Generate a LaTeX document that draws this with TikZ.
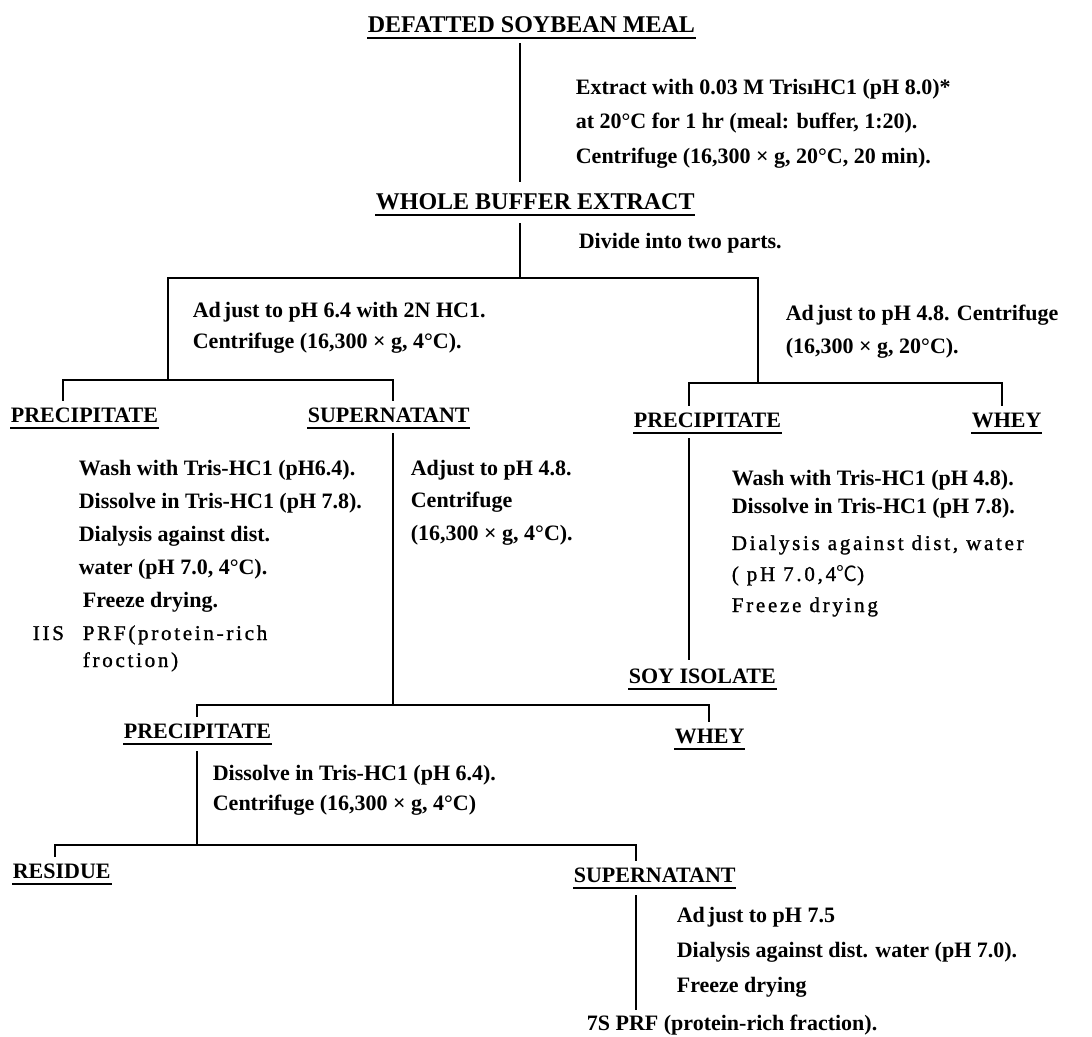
\documentclass[tikz,border=0pt]{standalone}
\usepackage{fontspec}
\setmainfont{Liberation Serif}
\newfontfamily\lightfont[LetterSpace=13,FakeBold=1.2]{Liberation Serif}
\newfontfamily\cjk{Noto Sans CJK SC}

\begin{document}
\begin{tikzpicture}[x=1pt, y=-1pt, line width=1.7pt,
    hd/.style={font=\bfseries\fontsize{22}{26}\selectfont, inner sep=0pt, anchor=base west,
      append after command={([yshift=-6pt]\tikzlastnode.base west) edge[line width=1.4pt] ([yshift=-6pt]\tikzlastnode.base east)}},
    big/.style={hd, font=\bfseries\fontsize{24}{28}\selectfont},
    proc/.style={font=\bfseries\fontsize{22}{32}\selectfont, inner sep=0pt, anchor=base west, align=left},
    faint/.style={font=\lightfont\fontsize{21}{31}\selectfont, inner sep=0pt, anchor=base west, align=left}]
    \useasboundingbox (0,0) rectangle (1092,1036);

    % headings
    \node[big] (dsm) at (367,32) {DEFATTED SOYBEAN MEAL};
    \node[big] (wbe) at (375,209) {WHOLE BUFFER EXTRACT};
    \node[hd] (ppa) at (10,422) {PRECIPITATE};
    \node[hd] (spa) at (307,422) {SUPERNATANT};
    \node[hd] (ppb) at (633,427) {PRECIPITATE};
    \node[hd] (wyb) at (971,427) {WHEY};
    \node[hd] (soy) at (628,683) {SOY ISOLATE};
    \node[hd] (ppc) at (123,738) {PRECIPITATE};
    \node[hd] (wyc) at (674,743) {WHEY};
    \node[hd] (res) at (12,878) {RESIDUE};
    \node[hd] (spc) at (573,882) {SUPERNATANT};
    \node[proc] (prf7) at (586,1030) {7S PRF (protein-rich fraction).};

    % steps (placed at the baseline of their last line)
    \node[proc, font=\bfseries\fontsize{22}{34.5}\selectfont] (ext) at (575,163) {Extract with 0.03 M TrisıHC1 (pH 8.0)*\\at 20°C for 1 hr (meal: buffer, 1:20).\\Centrifuge (16,300 × g, 20°C, 20 min).};
    \node[proc] (div) at (578,248) {Divide into two parts.};
    \node[proc, font=\bfseries\fontsize{22}{31}\selectfont] (adj64) at (192,348) {Ad\kern3pt just to pH 6.4 with 2N HC1.\\Centrifuge (16,300 × g, 4°C).};
    \node[proc, font=\bfseries\fontsize{22}{33}\selectfont] (adj48) at (785,353) {Ad\kern3pt just to pH 4.8. Centrifuge\\(16,300 × g, 20°C).};
    \node[proc, font=\bfseries\fontsize{22}{33}\selectfont] (wsha) at (78,607) {Wash with Tris-HC1 (pH6.4).\\Dissolve in Tris-HC1 (pH 7.8).\\Dialysis against dist.\\water (pH 7.0, 4°C).\\\hspace*{4pt}Freeze drying.};
    \node[faint] (iis) at (32,640) {IIS};
    \node[faint, font=\lightfont\fontsize{21}{27}\selectfont] (prf11) at (82,667) {PRF(protein-rich\\froction)};
    \node[proc, font=\bfseries\fontsize{22}{32.5}\selectfont] (adjb) at (410,540) {Adjust to pH 4.8.\\Centrifuge\\(16,300 × g, 4°C).};
    \node[proc, font=\bfseries\fontsize{22}{28}\selectfont] (wshb) at (731,513) {Wash with Tris-HC1 (pH 4.8).\\Dissolve in Tris-HC1 (pH 7.8).};
    \node[faint] (dialb) at (731,612) {Dialysis against dist, water\\( pH 7.0,4{\cjk ℃})\\Freeze drying};
    \node[proc, font=\bfseries\fontsize{22}{30}\selectfont] (dis64) at (212,810) {Dissolve in Tris-HC1 (pH 6.4).\\Centrifuge (16,300 × g, 4°C)};
    \node[proc, font=\bfseries\fontsize{22}{35}\selectfont] (adj75) at (676,992) {Ad\kern3pt just to pH 7.5\\Dialysis against dist. water (pH 7.0).\\Freeze drying};

    % branch points
    \coordinate (b1) at (520,278);
    \coordinate (l1) at (168,278);
    \coordinate (r1) at (758,278);
    \coordinate (l2) at (63,380);
    \coordinate (r2) at (393,380);
    \coordinate (l3) at (689,383);
    \coordinate (r3) at (1002,383);
    \coordinate (l4) at (197,705);
    \coordinate (r4) at (709,705);
    \coordinate (l5) at (55,845);
    \coordinate (r5) at (636,845);

    \draw ([yshift=-10pt]dsm.south -| b1) -- ([yshift=10pt]wbe.north -| b1);
    \draw ([yshift=-13pt]wbe.south -| b1) -- (b1);
    \draw (l1 |- l2) -- (l1) -- (r1) -- (r1 |- l3);

    \draw ([yshift=6pt]l2 |- ppa.north) -- (l2) -- (r2) -- ([yshift=6pt]r2 |- spa.north);
    \draw ([yshift=6pt]l3 |- ppb.north) -- (l3) -- (r3) -- ([yshift=6pt]r3 |- wyb.north);
    \draw ([yshift=-10pt]ppb.south -| l3) -- ([yshift=8pt]soy.north -| l3);

    \draw ([yshift=-10pt]spa.south -| r2) -- (r2 |- l4);
    \draw ([yshift=6pt]l4 |- ppc.north) -- (l4) -- (r4) -- ([yshift=6pt]r4 |- wyc.north);
    \draw ([yshift=-12pt]ppc.south -| l4) -- (l4 |- l5);
    \draw ([yshift=6pt]l5 |- res.north) -- (l5) -- (r5) -- ([yshift=6pt]r5 |- spc.north);
    \draw ([yshift=-12pt]spc.south -| r5) -- ([yshift=4pt]prf7.north -| r5);

\end{tikzpicture}
\end{document}
